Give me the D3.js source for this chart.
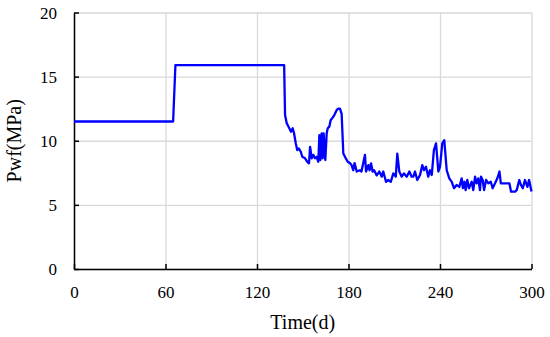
<!DOCTYPE html>
<html>
<head>
  <meta charset="utf-8">
  <title>Pwf vs Time</title>
  <style>
    body { margin: 0; background: #fff; }
    svg { display: block; font-family: "Liberation Serif", "Times New Roman", serif; }
    .grid line { stroke: #d9d9d9; stroke-width: 1.3px; }
    .grid path { display: none; }
    .axis path, .axis line { stroke: #000; stroke-width: 1.5px; }
    .title { font-size: 20px; fill: #000; }
  </style>
</head>
<body>
  <svg width="550" height="337"></svg>
  <script src="https://d3js.org/d3.v7.min.js"></script>
  <script>
    // 时间 (d)
    const time = [
      0, 65, 66.5, 137.8, 138.4, 139.5, 141.2, 142.3, 143.4, 144.3,
      145.4, 146.4, 147.5, 148.7, 149.7, 151.5, 153, 154.1, 154.8, 155.9,
      156.9, 158, 159.1, 160.2, 160.9, 161.6, 162.4, 163.1, 163.7, 164.8,
      165.7, 166.4, 167.4, 168.3, 169.6, 170.7, 172.3, 173.3, 174.4, 175.5,
      176.6, 178.2, 179.5, 181, 182, 183.1, 184, 185.4, 187.5, 188.5,
      190.8, 191.5, 193, 193.8, 194.8, 195.8, 196.8, 198.5, 200.2, 201.8,
      202.8, 204.6, 206, 207.7, 209.4, 211, 212, 213.3, 214.9, 216.4,
      218.2, 219.9, 221.4, 222.5, 223.6, 225.1, 226.9, 228.4, 229.5, 230.8,
      232.3, 233.4, 234.6, 236, 237.4, 238.9, 240, 241.5, 242.8, 244.4,
      246.1, 247.7, 249.2, 250.9, 252.7, 254.2, 255, 256, 256.8, 257.9,
      259, 260.8, 261.8, 263, 264, 265.1, 266.2, 266.9, 268, 268.9,
      270.2, 271.7, 273.3, 274.5, 276.1, 277.6, 279, 279.9, 281.5, 283.7,
      285.5, 286.6, 289.2, 290.3, 292, 293.1, 294.3, 295.7, 297.3, 298.4,
      300
    ];
    // 井底流压 (MPa)
    const pwf = [
      11.5, 11.5, 15.9, 15.9, 12.0, 11.36, 10.97, 10.7, 10.97, 10.58,
      9.8, 9.27, 9.4, 9.14, 8.75, 8.63, 8.36, 8.24, 9.53, 8.63,
      8.9, 8.63, 8.75, 8.36, 10.44, 8.5, 10.58, 8.63, 10.58, 8.5,
      10.58, 10.97, 11.1, 11.6, 11.8, 12.0, 12.4, 12.5, 12.5, 12.1,
      9.0, 8.63, 8.36, 8.24, 8.1, 7.7, 8.26, 7.6, 7.7, 7.6,
      8.9, 7.6, 8.1, 7.7, 8.24, 7.6, 7.7, 7.3, 7.6, 7.2,
      7.6, 6.8, 6.94, 6.8, 7.45, 7.2, 9.0, 7.6, 7.2, 7.45,
      7.2, 7.6, 7.2, 7.2, 7.6, 6.94, 7.33, 8.1, 7.7, 7.97,
      7.2, 7.7, 7.33, 9.27, 9.8, 7.6, 7.97, 9.8, 10.05, 7.7,
      7.07, 6.8, 6.3, 6.55, 6.4, 7.07, 6.3, 6.8, 6.15, 6.94,
      6.3, 6.8, 6.15, 7.2, 6.68, 7.07, 6.15, 7.2, 6.94, 6.15,
      6.94, 6.68, 6.8, 6.3, 6.68, 7.07, 7.6, 6.68, 6.68, 6.68,
      6.68, 6.03, 6.03, 6.15, 6.94, 6.55, 6.3, 6.94, 6.4, 6.94,
      6.05
    ];
    const xTicks = [0, 60, 120, 180, 240, 300];
    const yTicks = [0, 5, 10, 15, 20];

    const svg = d3.select("svg");
    const m = { left: 74, right: 531.5, top: 12.5, bottom: 269 };

    const x = d3.scaleLinear().domain([0, 300]).range([m.left, m.right]);
    const y = d3.scaleLinear().domain([0, 20]).range([m.bottom, m.top]);

    // 网格线
    svg.append("g").attr("class", "grid")
      .attr("transform", `translate(0,${m.bottom})`)
      .call(d3.axisBottom(x).tickValues(xTicks).tickSize(-(m.bottom - m.top)).tickFormat(""));
    svg.append("g").attr("class", "grid")
      .attr("transform", `translate(${m.left},0)`)
      .call(d3.axisLeft(y).tickValues(yTicks).tickSize(-(m.right - m.left)).tickFormat(""));

    // 坐标轴
    const xAxis = svg.append("g").attr("class", "axis")
      .attr("transform", `translate(0,${m.bottom})`)
      .call(d3.axisBottom(x).tickValues(xTicks).tickSizeInner(-5).tickSizeOuter(0).tickPadding(14));
    const yAxis = svg.append("g").attr("class", "axis")
      .attr("transform", `translate(${m.left},0)`)
      .call(d3.axisLeft(y).tickValues(yTicks).tickSizeInner(-5).tickSizeOuter(0).tickPadding(17));
    svg.selectAll(".axis")
      .attr("font-family", "Liberation Serif, Times New Roman, serif")
      .attr("font-size", 17);
    svg.selectAll(".axis text")
      .style("font-family", "'Liberation Serif', 'Times New Roman', serif")
      .style("font-size", "17px")
      .style("fill", "#000");
    xAxis.selectAll("text").attr("dy", "0.9em");
    yAxis.selectAll("text").attr("dy", "0.35em");

    // 曲线
    const line = d3.line().x((d, i) => x(time[i])).y(d => y(d));
    svg.append("path")
      .datum(pwf)
      .attr("fill", "none")
      .attr("stroke", "#0000ff")
      .attr("stroke-width", 2.3)
      .attr("stroke-linejoin", "round")
      .attr("d", line);

    // 轴标题
    svg.append("text").attr("class", "title")
      .attr("x", (m.left + m.right) / 2).attr("y", 329)
      .attr("text-anchor", "middle")
      .text("Time(d)");
    svg.append("text").attr("class", "title")
      .attr("transform", `translate(21,${(m.top + m.bottom) / 2}) rotate(-90)`)
      .attr("text-anchor", "middle")
      .text("Pwf(MPa)");
  </script>
</body>
</html>
